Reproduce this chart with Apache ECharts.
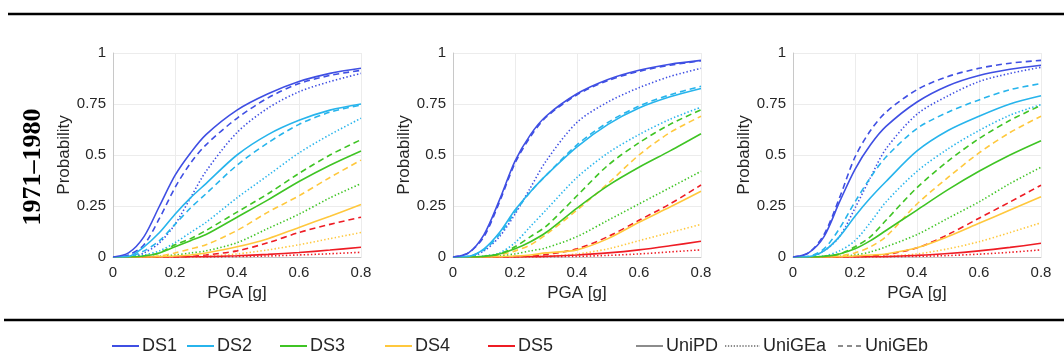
<!DOCTYPE html>
<html>
<head>
<meta charset="utf-8">
<script src="https://cdn.jsdelivr.net/npm/echarts@6/dist/echarts.min.js"></script>
<style>
html,body{margin:0;padding:0;background:#fff;}
#c{width:1064px;height:358px;}
</style>
</head>
<body>
<div id="c"></div>
<script>
// ---- data ----
const pga = [0, 0.05, 0.1, 0.15, 0.2, 0.25, 0.3, 0.4, 0.5, 0.6, 0.7, 0.8];
const xTicks = [0, 0.2, 0.4, 0.6, 0.8];
const yTicks = [0, 0.25, 0.5, 0.75, 1];
const damageStates = ['DS1', 'DS2', 'DS3', 'DS4', 'DS5'];
const models = ['UniPD', 'UniGEa', 'UniGEb'];
const rowLabel = '1971–1980';

// Panel 1
const p1_DS1_UniPD  = [0, .02, .10, .25, .40, .51, .60, .72, .80, .86, .90, .925];
const p1_DS1_UniGEa = [0, 0, .02, .07, .16, .29, .42, .61, .73, .81, .86, .90];
const p1_DS1_UniGEb = [0, .01, .06, .19, .34, .46, .55, .68, .78, .85, .89, .915];
const p1_DS2_UniPD  = [0, .003, .05, .12, .21, .29, .36, .50, .60, .67, .72, .75];
const p1_DS2_UniGEa = [0, 0, .01, .03, .07, .12, .17, .29, .40, .51, .60, .68];
const p1_DS2_UniGEb = [0, .002, .03, .08, .16, .24, .31, .45, .56, .65, .71, .745];
const p1_DS3_UniPD  = [0, 0, .005, .02, .05, .08, .11, .195, .28, .37, .45, .52];
const p1_DS3_UniGEa = [0, 0, 0, .003, .01, .02, .03, .07, .14, .21, .29, .36];
const p1_DS3_UniGEb = [0, 0, .005, .02, .06, .09, .13, .22, .31, .41, .50, .575];
const p1_DS4_UniPD  = [0, 0, 0, .002, .005, .01, .02, .05, .09, .145, .20, .257];
const p1_DS4_UniGEa = [0, 0, 0, 0, 0, .001, .003, .015, .035, .06, .09, .12];
const p1_DS4_UniGEb = [0, 0, 0, .005, .02, .04, .06, .13, .22, .30, .39, .475];
const p1_DS5_UniPD  = [0, 0, 0, 0, 0, .001, .002, .006, .013, .022, .034, .048];
const p1_DS5_UniGEa = [0, 0, 0, 0, 0, 0, 0, .002, .005, .01, .016, .023];
const p1_DS5_UniGEb = [0, 0, 0, 0, 0, .003, .01, .03, .07, .12, .16, .195];

// Panel 2
const p2_DS1_UniPD  = [0, .02, .11, .28, .47, .60, .69, .80, .87, .915, .945, .964];
const p2_DS1_UniGEa = [0, 0, .03, .10, .21, .34, .47, .66, .76, .83, .885, .925];
const p2_DS1_UniGEb = [0, .02, .10, .27, .46, .59, .685, .795, .865, .91, .94, .962];
const p2_DS2_UniPD  = [0, .003, .04, .12, .23, .32, .40, .54, .65, .73, .785, .826];
const p2_DS2_UniGEa = [0, 0, .005, .02, .07, .15, .23, .39, .51, .60, .675, .734];
const p2_DS2_UniGEb = [0, .003, .035, .11, .22, .32, .40, .55, .66, .74, .795, .837];
const p2_DS3_UniPD  = [0, 0, .003, .015, .04, .075, .12, .24, .35, .44, .52, .604];
const p2_DS3_UniGEa = [0, 0, 0, .005, .015, .03, .045, .10, .18, .26, .34, .42];
const p2_DS3_UniGEb = [0, 0, .003, .015, .05, .10, .15, .30, .45, .56, .65, .722];
const p2_DS4_UniPD  = [0, 0, 0, .002, .005, .01, .02, .035, .09, .17, .245, .322];
const p2_DS4_UniGEa = [0, 0, 0, 0, .001, .002, .004, .015, .04, .08, .12, .16];
const p2_DS4_UniGEb = [0, 0, 0, .01, .03, .06, .11, .23, .36, .50, .61, .69];
const p2_DS5_UniPD  = [0, 0, 0, 0, 0, .001, .003, .01, .02, .035, .055, .077];
const p2_DS5_UniGEa = [0, 0, 0, 0, 0, 0, .001, .003, .008, .015, .025, .035];
const p2_DS5_UniGEb = [0, 0, 0, 0, .002, .005, .012, .04, .10, .18, .26, .353];

// Panel 3
const p3_DS1_UniPD  = [0, .02, .10, .27, .43, .55, .64, .76, .84, .89, .92, .94];
const p3_DS1_UniGEa = [0, 0, .03, .10, .24, .39, .53, .70, .79, .86, .90, .93];
const p3_DS1_UniGEb = [0, .02, .11, .29, .49, .62, .71, .82, .885, .925, .95, .964];
const p3_DS2_UniPD  = [0, .002, .03, .10, .20, .29, .37, .52, .62, .69, .75, .79];
const p3_DS2_UniGEa = [0, 0, .005, .03, .08, .17, .27, .42, .53, .62, .695, .747];
const p3_DS2_UniGEb = [0, .003, .04, .14, .27, .39, .49, .63, .71, .77, .82, .85];
const p3_DS3_UniPD  = [0, 0, .003, .015, .04, .08, .13, .23, .33, .42, .50, .57];
const p3_DS3_UniGEa = [0, 0, 0, .003, .01, .025, .05, .11, .19, .27, .36, .44];
const p3_DS3_UniGEb = [0, 0, .003, .015, .05, .10, .18, .34, .47, .58, .67, .743];
const p3_DS4_UniPD  = [0, 0, 0, .002, .005, .01, .015, .045, .10, .165, .23, .295];
const p3_DS4_UniGEa = [0, 0, 0, 0, .001, .002, .004, .015, .04, .075, .12, .168];
const p3_DS4_UniGEb = [0, 0, 0, .005, .02, .05, .10, .26, .39, .51, .61, .69];
const p3_DS5_UniPD  = [0, 0, 0, 0, 0, .001, .002, .008, .017, .03, .047, .067];
const p3_DS5_UniGEa = [0, 0, 0, 0, 0, 0, .001, .003, .007, .014, .023, .035];
const p3_DS5_UniGEb = [0, 0, 0, 0, .002, .005, .012, .045, .11, .19, .27, .352];

// ---- build ----
const panels = [
  [[p1_DS1_UniPD, p1_DS1_UniGEa, p1_DS1_UniGEb],
   [p1_DS2_UniPD, p1_DS2_UniGEa, p1_DS2_UniGEb],
   [p1_DS3_UniPD, p1_DS3_UniGEa, p1_DS3_UniGEb],
   [p1_DS4_UniPD, p1_DS4_UniGEa, p1_DS4_UniGEb],
   [p1_DS5_UniPD, p1_DS5_UniGEa, p1_DS5_UniGEb]],
  [[p2_DS1_UniPD, p2_DS1_UniGEa, p2_DS1_UniGEb],
   [p2_DS2_UniPD, p2_DS2_UniGEa, p2_DS2_UniGEb],
   [p2_DS3_UniPD, p2_DS3_UniGEa, p2_DS3_UniGEb],
   [p2_DS4_UniPD, p2_DS4_UniGEa, p2_DS4_UniGEb],
   [p2_DS5_UniPD, p2_DS5_UniGEa, p2_DS5_UniGEb]],
  [[p3_DS1_UniPD, p3_DS1_UniGEa, p3_DS1_UniGEb],
   [p3_DS2_UniPD, p3_DS2_UniGEa, p3_DS2_UniGEb],
   [p3_DS3_UniPD, p3_DS3_UniGEa, p3_DS3_UniGEb],
   [p3_DS4_UniPD, p3_DS4_UniGEa, p3_DS4_UniGEb],
   [p3_DS5_UniPD, p3_DS5_UniGEa, p3_DS5_UniGEb]]
];

const dsColors = ['#3f4fe3', '#27b4ec', '#3fc424', '#ffc83d', '#ee1c24'];
const modelStyles = [
  {type: 'solid', width: 1.6},
  {type: [1.4, 2.2], width: 1.6},
  {type: [6, 4], width: 1.6}
];
const FONT = 'Liberation Sans, Arial, Helvetica, sans-serif';
const TXT = '#262626';

const gridLefts = [113, 453, 793];
const grids = [], xAxes = [], yAxes = [], series = [];

gridLefts.forEach((l, i) => {
  grids.push({left: l, top: 53, width: 248, height: 204, containLabel: false});
  xAxes.push({
    gridIndex: i, type: 'value', min: 0, max: 0.8, interval: 0.2,
    name: 'PGA [g]', nameLocation: 'middle', nameGap: 26,
    nameTextStyle: {fontSize: 17, color: TXT, fontFamily: FONT},
    axisLine: {show: true, onZero: false, lineStyle: {color: '#c8c8c8', width: 1}},
    axisTick: {show: false},
    axisLabel: {fontSize: 15, color: TXT, fontFamily: FONT, margin: 8,
      formatter: v => String(+v.toFixed(2))},
    splitLine: {show: true, lineStyle: {color: '#ececec', width: 1}}
  });
  yAxes.push({
    gridIndex: i, type: 'value', min: 0, max: 1, interval: 0.25,
    name: 'Probability', nameLocation: 'middle', nameGap: 39,
    nameTextStyle: {fontSize: 17, color: TXT, fontFamily: FONT},
    axisLine: {show: true, lineStyle: {color: '#c8c8c8', width: 1}},
    axisTick: {show: false},
    axisLabel: {fontSize: 15, color: TXT, fontFamily: FONT, margin: 7,
      formatter: v => String(+v.toFixed(2))},
    splitLine: {show: true, lineStyle: {color: '#ececec', width: 1}}
  });
  // draw order: dotted, dashed, solid on top
  [1, 2, 0].forEach(m => {
    for (let k = damageStates.length - 1; k >= 0; k--) {
      const arr = panels[i][k][m];
      series.push({
        name: 'p' + (i + 1) + ' ' + damageStates[k] + ' ' + models[m],
        type: 'line', xAxisIndex: i, yAxisIndex: i,
        data: pga.map((x, j) => [x, arr[j]]),
        smooth: 0.3,
        symbol: 'none', silent: true, clip: true,
        lineStyle: {color: dsColors[k], width: modelStyles[m].width, type: modelStyles[m].type}
      });
    }
  });
});

// legend dummy series
const legendNames = damageStates.concat(models);
const legendColors = dsColors.concat(['#8c8c8c', '#8c8c8c', '#8c8c8c']);
function dashPath(total, dash, gap) {
  let p = '', x = 0;
  while (x < total) {
    const w = Math.min(dash, total - x);
    p += 'M' + x + ',0h' + w + 'v2h-' + w + 'z';
    x += dash + gap;
  }
  return 'path://' + p;
}
const solidIcon = 'path://M0,0h27v2h-27z';
const legendIcons = [solidIcon, solidIcon, solidIcon, solidIcon, solidIcon, solidIcon,
  dashPath(35, 1.3, 1.6), dashPath(25, 5, 4)];
const legendWidths = [27, 27, 27, 27, 27, 27, 35, 25];
legendNames.forEach((n, idx) => {
  series.push({
    name: n, type: 'line', xAxisIndex: 0, yAxisIndex: 0, data: [],
    symbol: 'none', itemStyle: {color: legendColors[idx]},
    lineStyle: {color: legendColors[idx], width: 2}
  });
});
const legendLefts = [112, 187, 280, 385, 488, 636, 725, 838];
const legends = legendNames.map((n, idx) => ({
  data: [{name: n, icon: legendIcons[idx]}], left: legendLefts[idx], top: 337,
  padding: 0,
  itemWidth: legendWidths[idx], itemHeight: 2, itemGap: 3,
  selectedMode: false,
  itemStyle: {color: legendColors[idx]},
  textStyle: {fontSize: 18, color: TXT, fontFamily: FONT, padding: [0, 0, 0, -2]}
}));

const chart = echarts.init(document.getElementById('c'), null, {renderer: 'canvas'});
chart.setOption({
  animation: false,
  backgroundColor: '#fff',
  grid: grids, xAxis: xAxes, yAxis: yAxes,
  legend: legends,
  series: series,
  graphic: [
    {type: 'line', shape: {x1: 8, y1: 14, x2: 1064, y2: 14}, style: {stroke: '#000', lineWidth: 2.5}},
    {type: 'line', shape: {x1: 4, y1: 320, x2: 1064, y2: 320}, style: {stroke: '#000', lineWidth: 2.5}},
    {type: 'text', x: 33, y: 167, rotation: Math.PI / 2,
      style: {text: rowLabel, font: 'bold 26px "Liberation Serif", "Times New Roman", serif',
        fill: '#000', textAlign: 'center', textVerticalAlign: 'middle'}}
  ]
});
</script>
</body>
</html>
